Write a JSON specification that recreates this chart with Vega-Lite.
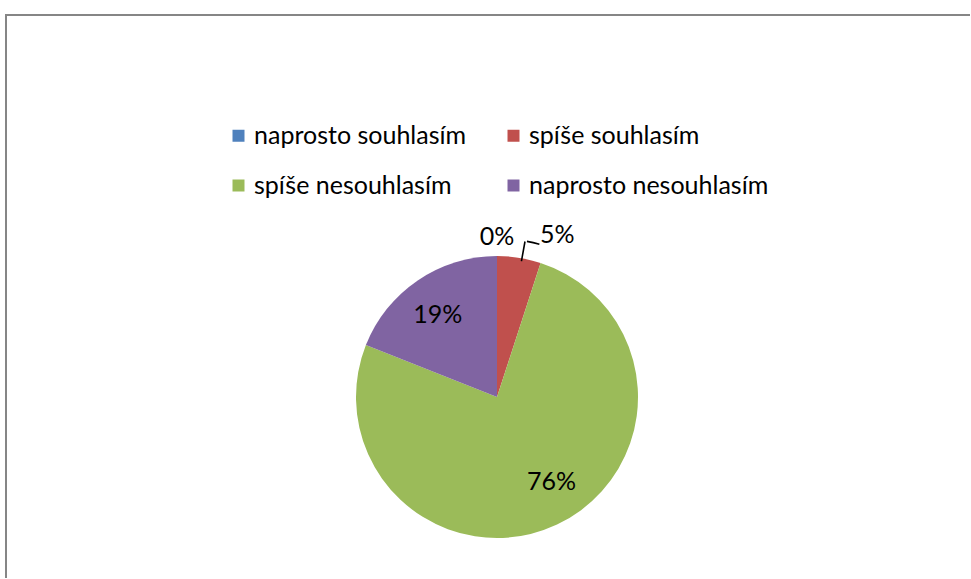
{
  "$schema": "https://vega.github.io/schema/vega-lite/v6.json",
  "autosize": {"type": "fit", "contains": "padding"},
  "width": 971,
  "height": 579,
  "padding": {"left": 5, "top": 14, "right": 0, "bottom": 0},
  "background": "white",
  "config": {
    "view": {"stroke": null},
    "font": "Lato"
  },
  "data": {
    "values": [
      {"idx": 1, "category": "naprosto souhlasím", "value": 0, "label": "0%"},
      {"idx": 2, "category": "spíše souhlasím", "value": 5, "label": "5%"},
      {"idx": 3, "category": "spíše nesouhlasím", "value": 76, "label": "76%"},
      {"idx": 4, "category": "naprosto nesouhlasím", "value": 19, "label": "19%"}
    ]
  },
  "layer": [
    {
      "data": {"values": [{"frame": 1}]},
      "mark": {"type": "rect", "fill": null, "stroke": "#868686", "strokeWidth": 2, "strokeDash": {"expr": "[width, width + height, height + 10]"}},
      "encoding": {
        "x": {"value": 0},
        "x2": {"value": "width"},
        "y": {"value": 0},
        "y2": {"value": "height"}
      }
    },
    {
      "mark": {"type": "arc", "outerRadius": 141, "x": {"expr": "width/2 + 9"}, "y": {"expr": "height/2 + 100.5"}},
      "encoding": {
        "theta": {"field": "value", "type": "quantitative", "stack": true},
        "order": {"field": "idx", "type": "quantitative"},
        "color": {
          "field": "category",
          "type": "nominal",
          "sort": ["naprosto souhlasím", "spíše nesouhlasím", "spíše souhlasím", "naprosto nesouhlasím"],
          "scale": {
            "domain": ["naprosto souhlasím", "spíše nesouhlasím", "spíše souhlasím", "naprosto nesouhlasím"],
            "range": ["#4F81BD", "#9BBB59", "#C0504D", "#8064A2"]
          },
          "legend": {
            "title": null,
            "orient": "none",
            "legendX": 220,
            "legendY": 108,
            "padding": 0,
            "columns": 2,
            "columnPadding": 34,
            "rowPadding": 24,
            "symbolType": "square",
            "symbolSize": 144,
            "symbolStrokeWidth": 0,
            "labelFont": "Lato",
            "labelFontSize": 25,
            "labelColor": "#000000",
            "labelOffset": 3,
            "labelLimit": 400
          }
        }
      }
    },
    {
      "mark": {"type": "arc", "outerRadius": 158, "innerRadius": 138, "thetaOffset": 0.021, "padAngle": 1, "fill": "#000000", "stroke": "#000000", "strokeWidth": 1.6, "x": {"expr": "width/2 + 9"}, "y": {"expr": "height/2 + 100.5"}},
      "encoding": {
        "theta": {"field": "value", "type": "quantitative", "stack": true},
        "order": {"field": "idx", "type": "quantitative"},
        "opacity": {"condition": {"test": "datum.value == 5", "value": 1}, "value": 0}
      }
    },
    {
      "mark": {"type": "arc", "outerRadius": 158.5, "innerRadius": 158.5, "thetaOffset": 0.0733, "padAngle": 0.165, "fill": null, "stroke": "#000000", "strokeWidth": 1.6, "x": {"expr": "width/2 + 9"}, "y": {"expr": "height/2 + 100.5"}},
      "encoding": {
        "theta": {"field": "value", "type": "quantitative", "stack": true},
        "order": {"field": "idx", "type": "quantitative"},
        "opacity": {"condition": {"test": "datum.value == 5", "value": 1}, "value": 0}
      }
    },
    {
      "mark": {"type": "text", "radius": 102, "dx": -2, "dy": 2, "fontSize": 25, "font": "Lato", "color": "#000000", "baseline": "middle", "x": {"expr": "width/2 + 9"}, "y": {"expr": "height/2 + 100.5"}},
      "encoding": {
        "theta": {"field": "value", "type": "quantitative", "stack": true},
        "order": {"field": "idx", "type": "quantitative"},
        "text": {"condition": {"test": "datum.value == 19", "field": "label"}, "value": ""}
      }
    },
    {
      "mark": {"type": "text", "radius": 100, "dx": 12, "dy": -5, "fontSize": 25, "font": "Lato", "color": "#000000", "baseline": "middle", "x": {"expr": "width/2 + 9"}, "y": {"expr": "height/2 + 100.5"}},
      "encoding": {
        "theta": {"field": "value", "type": "quantitative", "stack": true},
        "order": {"field": "idx", "type": "quantitative"},
        "text": {"condition": {"test": "datum.value == 76", "field": "label"}, "value": ""}
      }
    },
    {
      "mark": {"type": "text", "radius": 160, "fontSize": 25, "font": "Lato", "color": "#000000", "baseline": "middle", "x": {"expr": "width/2 + 9"}, "y": {"expr": "height/2 + 100.5"}},
      "encoding": {
        "theta": {"field": "value", "type": "quantitative", "stack": true},
        "order": {"field": "idx", "type": "quantitative"},
        "text": {"condition": {"test": "datum.value == 0", "field": "label"}, "value": ""}
      }
    },
    {
      "mark": {"type": "text", "radius": 168, "dx": 34, "dy": 4, "fontSize": 25, "font": "Lato", "color": "#000000", "baseline": "middle", "x": {"expr": "width/2 + 9"}, "y": {"expr": "height/2 + 100.5"}},
      "encoding": {
        "theta": {"field": "value", "type": "quantitative", "stack": true},
        "order": {"field": "idx", "type": "quantitative"},
        "text": {"condition": {"test": "datum.value == 5", "field": "label"}, "value": ""}
      }
    }
  ]
}
